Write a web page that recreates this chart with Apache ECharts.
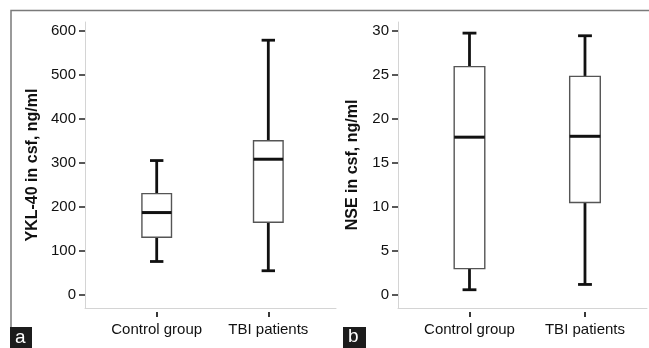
<!DOCTYPE html>
<html>
<head>
<meta charset="utf-8">
<script src="https://cdn.jsdelivr.net/npm/echarts@6/dist/echarts.min.js"></script>
<style>
  html, body { margin: 0; padding: 0; background: #fff; }
  #chart { width: 649px; height: 348px; }
</style>
</head>
<body>
<div id="chart"></div>
<script>
// groups on the x axis
var groups = ['Control group', 'TBI patients'];

// [min, q1, median, q3, max] per group
var yklControl = [76, 131, 187, 230, 305];
var yklTbi = [55, 165, 308, 350, 578];
var nseControl = [0.6, 3.0, 17.9, 25.9, 29.7];
var nseTbi = [1.2, 10.5, 18.0, 24.8, 29.4];

// y tick labels
var yklTicks = [0, 100, 200, 300, 400, 500, 600];
var nseTicks = [0, 5, 10, 15, 20, 25, 30];

var font = 'Liberation Sans, Arial, sans-serif';

function rows(stats) {
  return stats.map(function(s, i) { return [i].concat(s); });
}

function renderBox(params, api) {
  var x = api.value(0);
  var lo = api.coord([x, api.value(1)]);
  var q1 = api.coord([x, api.value(2)]);
  var md = api.coord([x, api.value(3)]);
  var q3 = api.coord([x, api.value(4)]);
  var hi = api.coord([x, api.value(5)]);
  var band = api.size([1, 0])[0];
  var bw = band * 0.265;
  var cw = band * 0.12;
  var cx = lo[0];
  var whisker = { stroke: '#111', lineWidth: 2.8 };
  return {
    type: 'group',
    children: [
      { type: 'line', shape: { x1: cx, y1: hi[1], x2: cx, y2: q3[1] }, style: whisker },
      { type: 'line', shape: { x1: cx, y1: q1[1], x2: cx, y2: lo[1] }, style: whisker },
      { type: 'line', shape: { x1: cx - cw / 2, y1: hi[1], x2: cx + cw / 2, y2: hi[1] }, style: whisker },
      { type: 'line', shape: { x1: cx - cw / 2, y1: lo[1], x2: cx + cw / 2, y2: lo[1] }, style: whisker },
      { type: 'rect', shape: { x: cx - bw / 2, y: q3[1], width: bw, height: q1[1] - q3[1] },
        style: { fill: '#fff', stroke: '#555', lineWidth: 1.4 } },
      { type: 'line', shape: { x1: cx - bw / 2, y1: md[1], x2: cx + bw / 2, y2: md[1] },
        style: { stroke: '#111', lineWidth: 3 } }
    ]
  };
}

function yAxisOf(grid, name, min, max, ticks, gap) {
  return {
    type: 'value', gridIndex: grid, min: min, max: max,
    name: name, nameLocation: 'middle', nameGap: gap,
    nameTextStyle: { fontFamily: font, fontSize: 16, fontWeight: 'bold', color: '#111' },
    axisLine: { show: true, onZero: false, lineStyle: { color: '#d4d4d4', width: 1 } },
    axisTick: { show: true, length: 6, customValues: ticks, lineStyle: { color: '#222', width: 1.5 } },
    axisLabel: { customValues: ticks, margin: 9, fontFamily: font, fontSize: 15, color: '#111' },
    splitLine: { show: false }
  };
}

function xAxesOf(grid, min, max) {
  return [{
    type: 'value', gridIndex: grid, min: min, max: max,
    axisLine: { show: true, onZero: false, lineStyle: { color: '#d4d4d4', width: 1 } },
    axisTick: { show: false }, axisLabel: { show: false }, splitLine: { show: false }
  }, {
    type: 'value', gridIndex: grid, min: min, max: max, position: 'bottom', offset: 4,
    axisLine: { show: false, onZero: false },
    axisTick: { show: true, length: 5, customValues: [0, 1], lineStyle: { color: '#222', width: 1.8 } },
    axisLabel: {
      customValues: [0, 1], margin: 10, fontFamily: font, fontSize: 15, color: '#111',
      formatter: function(v) { return groups[Math.round(v)]; }
    },
    splitLine: { show: false }
  }];
}

var chart = echarts.init(document.getElementById('chart'));
var option = {
  backgroundColor: '#fff',
  animation: false,
  grid: [
    { left: 85, top: 22, width: 251, height: 286 },
    { left: 398, top: 22, width: 249, height: 286 }
  ],
  xAxis: xAxesOf(0, -0.6425, 1.6066).concat(xAxesOf(1, -0.619, 1.537)),
  yAxis: [
    yAxisOf(0, 'YKL-40 in csf, ng/ml', -29.5, 619.3, yklTicks, 44),
    yAxisOf(1, 'NSE in csf, ng/ml', -1.47, 30.96, nseTicks, 37)
  ],
  series: [
    { type: 'custom', xAxisIndex: 0, yAxisIndex: 0, renderItem: renderBox,
      encode: { x: 0, y: [1, 2, 3, 4, 5] }, data: rows([yklControl, yklTbi]) },
    { type: 'custom', xAxisIndex: 2, yAxisIndex: 1, renderItem: renderBox,
      encode: { x: 0, y: [1, 2, 3, 4, 5] }, data: rows([nseControl, nseTbi]) }
  ],
  graphic: [
    { type: 'polyline', silent: true,
      shape: { points: [[11, 348], [11, 10.5], [649, 10.5]] },
      style: { stroke: '#7a7a7a', lineWidth: 1.5, fill: null } },
    { type: 'rect', left: 10, top: 327, shape: { width: 22, height: 21 }, style: { fill: '#1c1c1c' } },
    { type: 'text', left: 15, top: 328, style: { text: 'a', fill: '#fff', fontFamily: font, fontSize: 19 } },
    { type: 'rect', left: 343, top: 327, shape: { width: 23, height: 21 }, style: { fill: '#1c1c1c' } },
    { type: 'text', left: 348, top: 327, style: { text: 'b', fill: '#fff', fontFamily: font, fontSize: 19 } }
  ]
};
chart.setOption(option);
</script>
</body>
</html>
